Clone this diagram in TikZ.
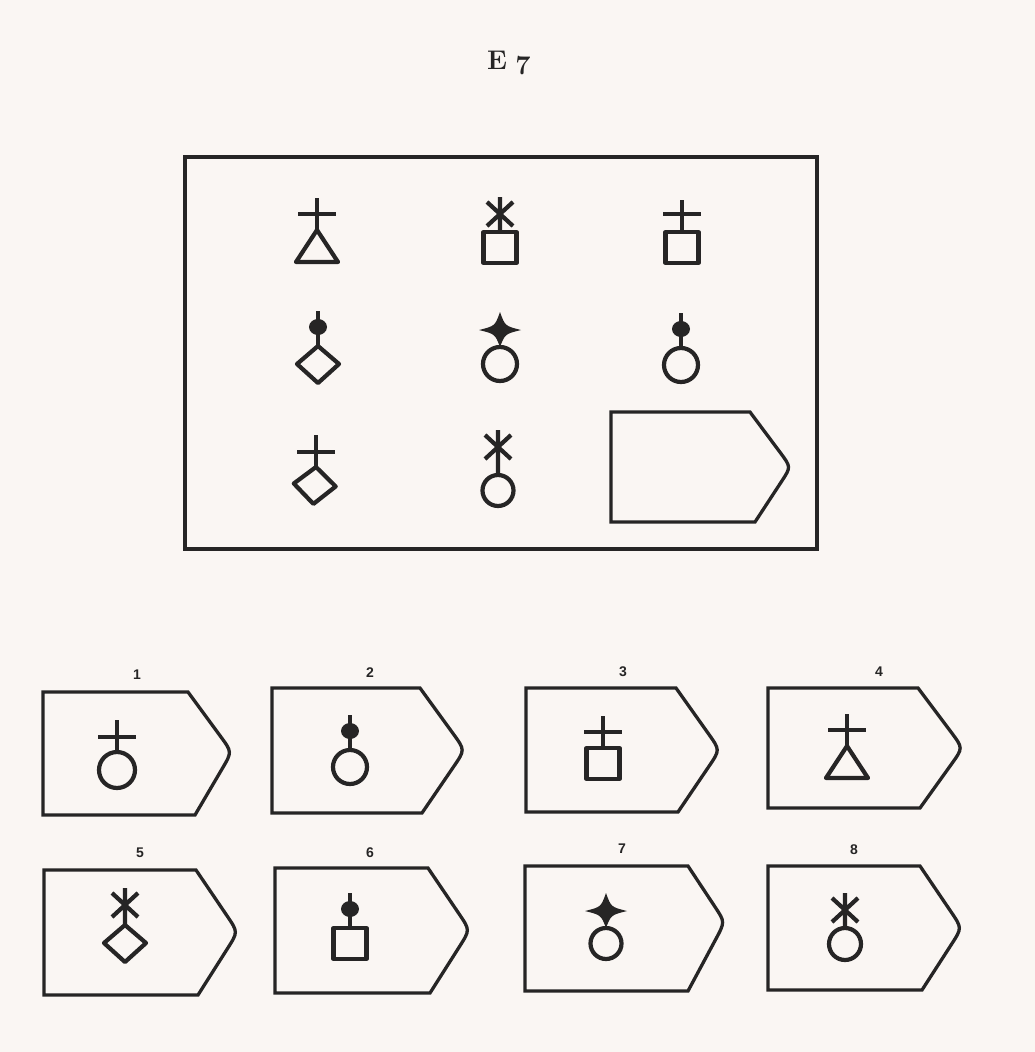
\documentclass[tikz,border=0pt]{standalone}
\usepackage{fontspec}
\setsansfont{Liberation Sans}
\usetikzlibrary{calc}
\definecolor{paper}{HTML}{FAF6F3}
\definecolor{ink}{HTML}{262525}
\tikzset{
  sym/.style={line width=4.2pt, draw=ink, line join=round},
  frame/.style={line width=3.3pt, draw=ink, line join=miter},
  num/.style={font=\sffamily\bfseries\fontsize{14}{14}\selectfont, text=ink},
}
% top elements, origin at the joint
\newcommand\TopCross[1][16]{\draw[sym] (0,0) -- (0,-32) (-19,-#1) -- (19,-#1);}
\newcommand\TopAst[1][18]{\draw[sym] (0,0) -- (0,{-#1-17}) (-13,{-#1-12}) -- (13,{-#1+12}) (13,{-#1-12}) -- (-13,{-#1+12});}
\newcommand\TopBulb{\draw[ink, line width=3.4pt] (0,0) -- (0,-35); \fill[ink] (0,-19) ellipse [x radius=9, y radius=8];}
\newcommand\TopStar{\fill[ink] (0,-35) .. controls (5,-21) .. (21,-17) .. controls (5,-13) .. (0,0) .. controls (-5,-13) .. (-21,-17) .. controls (-5,-21) .. (0,-35) -- cycle;}
% bottom shapes
\newcommand\BotTri{\draw[sym] (0,0) -- (21,32) -- (-21,32) -- cycle;}
\newcommand\BotSq{\draw[sym] (-16.5,0) rectangle (16.5,31);}
\newcommand\BotDia{\draw[sym] (0,0) -- (21,18) -- (0,37) -- (-21,18) -- cycle;}
\newcommand\BotCirc[1][17]{\draw[sym] (0,#1) circle [radius=#1];}
% answer-box outline: L T R X M Rb B
\newcommand\Abox[7]{\draw[frame] (#1,#2) -- (#3,#2) -- ($(#3,#2)!0.74!(#4,#5)$) .. controls (#4,#5) .. ($(#6,#7)!0.74!(#4,#5)$) -- (#6,#7) -- (#1,#7) -- cycle;}
\begin{document}
\begin{tikzpicture}[x=1pt,y=-1pt]
\fill[paper] (0,0) rectangle (1035,1052);
\useasboundingbox (0,0) rectangle (1035,1052);
% title
\node[font=\bfseries\fontsize{27}{27}\selectfont, text=ink] (tE) at (497,60) {E};
\node[font=\bfseries\fontsize{27}{27}\selectfont, text=ink] (t7) at (523,66) {7};
% matrix frame
\draw[frame] (185,157) rectangle (817,549);
% row 1
\begin{scope}[shift={(317,230)}]\TopCross\BotTri\end{scope}
\begin{scope}[shift={(500,232)}]\TopAst\BotSq\end{scope}
\begin{scope}[shift={(682,232)}]\TopCross[18]\BotSq\end{scope}
% row 2
\begin{scope}[shift={(318,346)}]\TopBulb\BotDia\end{scope}
\begin{scope}[shift={(500,347)}]\TopStar\BotCirc\end{scope}
\begin{scope}[shift={(681,348)}]\TopBulb\BotCirc\end{scope}
% row 3
\begin{scope}[shift={(316,467)}]\TopCross[15]\begin{scope}[rotate=-4]\BotDia\end{scope}\end{scope}
\begin{scope}[shift={(498,475)}]\TopAst[28]\BotCirc[15.5]\end{scope}
\Abox{611}{412}{750}{791}{467}{755}{522}
% answers
\Abox{43}{692}{188}{232}{752}{195}{815}
\Abox{272}{688}{420}{465}{750}{422}{813}
\Abox{526}{688}{676}{720}{750}{678}{812}
\Abox{768}{688}{918}{963}{748}{920}{808}
\Abox{44}{870}{196}{238}{932}{198}{995}
\Abox{275}{868}{428}{470}{930}{430}{993}
\Abox{525}{866}{688}{725}{922}{688}{991}
\Abox{768}{866}{920}{962}{928}{922}{990}
\node[num] (n1) at (137,675) {1};
\node[num] (n2) at (370,673) {2};
\node[num] (n3) at (623,672) {3};
\node[num] (n4) at (879,672) {4};
\node[num] (n5) at (140,853) {5};
\node[num] (n6) at (370,853) {6};
\node[num] (n7) at (622,849) {7};
\node[num] (n8) at (854,850) {8};
\begin{scope}[shift={(117,752)}]\TopCross[15]\BotCirc[18]\end{scope}
\begin{scope}[shift={(350,750)}]\TopBulb\BotCirc\end{scope}
\begin{scope}[shift={(603,748)}]\TopCross\BotSq\end{scope}
\begin{scope}[shift={(847,746)}]\TopCross\BotTri\end{scope}
\begin{scope}[shift={(125,925)}]\TopAst[20]\BotDia\end{scope}
\begin{scope}[shift={(350,928)}]\TopBulb\BotSq\end{scope}
\begin{scope}[shift={(606,928)}]\TopStar\BotCirc[15.5]\end{scope}
\begin{scope}[shift={(845,928)}]\TopAst\BotCirc[16]\end{scope}
\end{tikzpicture}
\end{document}
